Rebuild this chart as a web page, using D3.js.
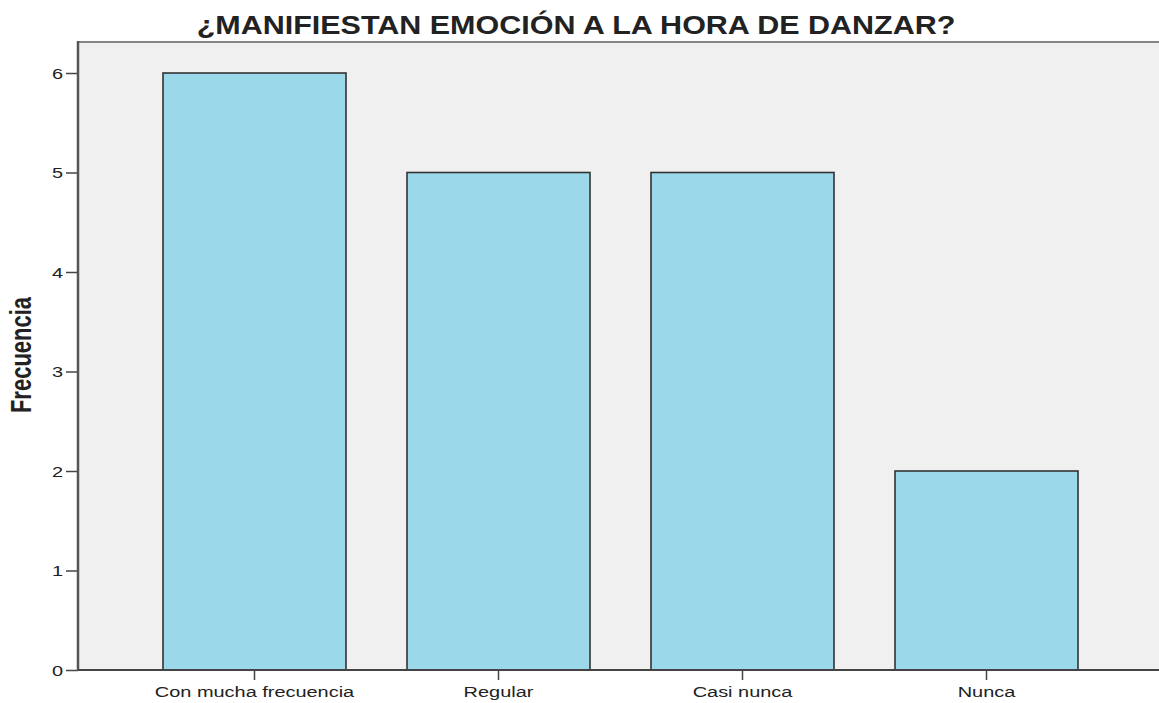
<html>
<head>
<meta charset="utf-8">
<script src="https://cdn.jsdelivr.net/npm/d3@7"></script>
<style>
  body { margin: 0; background: #fff; }
  text { font-family: "Liberation Sans", Arial, sans-serif; fill: #222; }
</style>
</head>
<body>
<svg width="1159" height="703"></svg>
<script>
var categories = ["Con mucha frecuencia", "Regular", "Casi nunca", "Nunca"];
var counts = [6, 5, 5, 2];
var yTicks = [0, 1, 2, 3, 4, 5, 6];
var title = "¿MANIFIESTAN EMOCIÓN A LA HORA DE DANZAR?";
var yTitle = "Frecuencia";

var svg = d3.select("svg");
var plot = {left: 78, top: 42, right: 1172, bottom: 670};
var stretch = 1.33; // the reference text is drawn wide

var x = d3.scaleBand()
    .domain(categories)
    .range([163, 1078])
    .paddingInner(0.25)
    .paddingOuter(0);
var y = d3.scaleLinear()
    .domain([0, 6])
    .range([plot.bottom, 73]);

// plot background
svg.append("rect")
    .attr("x", plot.left)
    .attr("y", plot.top)
    .attr("width", plot.right - plot.left)
    .attr("height", plot.bottom - plot.top)
    .attr("fill", "#f0f0f0");
svg.append("line")
    .attr("x1", plot.left).attr("x2", plot.right)
    .attr("y1", plot.top).attr("y2", plot.top)
    .attr("stroke", "#858585").attr("stroke-width", 2);

// bars
svg.append("g").selectAll("rect")
    .data(counts)
  .enter().append("rect")
    .attr("x", function(d, i) { return x(categories[i]); })
    .attr("y", function(d) { return y(d); })
    .attr("width", x.bandwidth())
    .attr("height", function(d) { return y(0) - y(d); })
    .attr("fill", "#9bd8e9")
    .attr("stroke", "#333")
    .attr("stroke-width", 1.6);

// y axis
var gy = svg.append("g")
    .attr("transform", "translate(" + plot.left + ",0)")
    .call(d3.axisLeft(y).tickValues(yTicks).tickFormat(d3.format("d")).tickSize(12).tickPadding(0));
gy.select(".domain").remove();
gy.selectAll(".tick line").attr("stroke", "#444").attr("stroke-width", 1.5);
gy.selectAll(".tick text")
    .attr("x", 0)
    .attr("dy", "0.36em")
    .attr("transform", "translate(-15,0) scale(" + stretch + ",1)")
    .style("font-size", "15px")
    .style("font-family", "'Liberation Sans', Arial, sans-serif")
    .attr("fill", "#222");
svg.append("line")
    .attr("x1", plot.left).attr("x2", plot.left)
    .attr("y1", plot.top - 1).attr("y2", plot.bottom + 1)
    .attr("stroke", "#555").attr("stroke-width", 2.5);

// x axis
var gx = svg.append("g")
    .attr("transform", "translate(0," + plot.bottom + ")")
    .call(d3.axisBottom(x).tickSize(10).tickPadding(0));
gx.select(".domain").remove();
gx.selectAll(".tick line").attr("stroke", "#444").attr("stroke-width", 1.5);
gx.selectAll(".tick text")
    .attr("y", 0)
    .attr("dy", 0)
    .attr("transform", "translate(0,27) scale(" + stretch + ",1)")
    .style("font-size", "15px")
    .style("font-family", "'Liberation Sans', Arial, sans-serif")
    .attr("fill", "#222");
svg.append("line")
    .attr("x1", plot.left).attr("x2", plot.right)
    .attr("y1", plot.bottom).attr("y2", plot.bottom)
    .attr("stroke", "#444").attr("stroke-width", 2);

// titles
svg.append("text")
    .attr("transform", "translate(576,34) scale(1.22,1)")
    .attr("text-anchor", "middle")
    .style("font-size", "25px")
    .style("font-weight", "bold")
    .text(title);
svg.append("text")
    .attr("transform", "translate(31,355) rotate(-90) scale(1," + stretch + ")")
    .attr("text-anchor", "middle")
    .style("font-size", "22px")
    .style("font-weight", "bold")
    .text(yTitle);
</script>
</body>
</html>
